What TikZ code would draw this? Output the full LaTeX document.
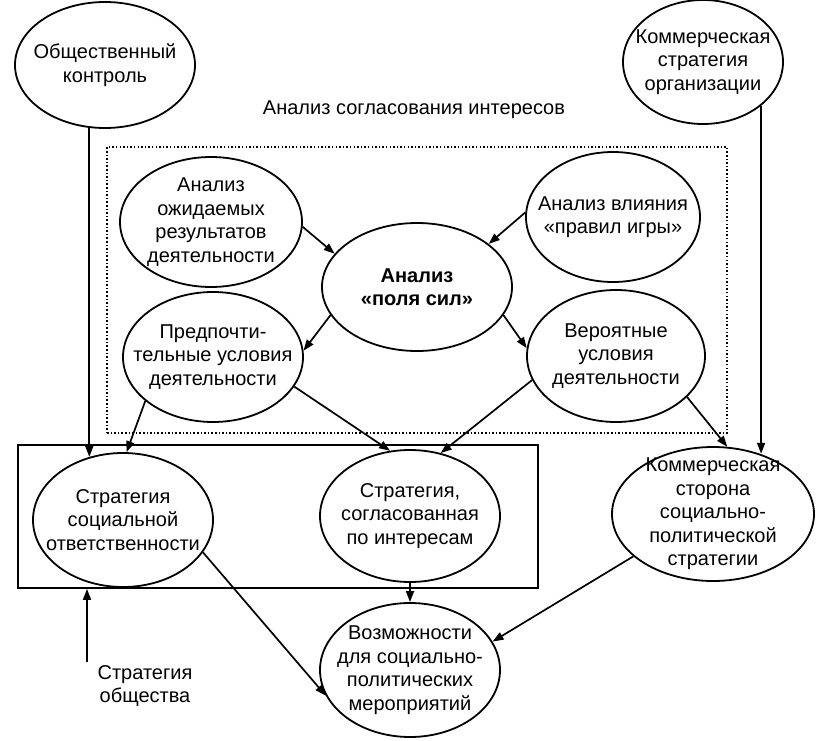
\documentclass[tikz,border=0pt]{standalone}
\usepackage{fontspec}
\setmainfont{Liberation Sans}
\usetikzlibrary{shapes.geometric,arrows.meta}
\begin{document}
\begin{tikzpicture}[x=1pt,y=-1pt,
  txtfont/.style={font=\fontsize{20}{23.5}\selectfont},
  ell/.style={draw, line width=1.8pt, ellipse, inner xsep=-25pt, inner ysep=-12pt, align=center, txtfont},
  arr/.style={line width=1.7pt, -{Triangle[length=11pt,width=8pt]}},
  frame/.style={draw, line width=1.8pt, inner sep=0pt},
  dotframe/.style={draw, line width=1.5pt, dash pattern=on 1.5pt off 2.1pt, inner sep=0pt},
  plain/.style={align=center, txtfont, inner sep=0pt}
]
\useasboundingbox (0,0) rectangle (819,741);

% frames
\node[dotframe, minimum width=620pt, minimum height=286pt] (dbox) at (417,290) {};
\node[frame, minimum width=520pt, minimum height=143pt] (box) at (278,516.5) {};

% ellipses
\node[ell, minimum width=180pt, minimum height=126pt] (A) at (105,65) {Общественный\\контроль};
\node[ell, minimum width=160pt, minimum height=124pt] (B) at (703,62) {Коммерческая\\стратегия\\организации};
\node[plain] (T) at (414,110) {Анализ согласования интересов};
\node[ell, minimum width=182pt, minimum height=130pt] (C) at (211,222) {Анализ\\ожидаемых\\результатов\\деятельности};
\node[ell, minimum width=174pt, minimum height=130pt] (D) at (613,217) {Анализ влияния\\«правил игры»};
\node[ell, minimum width=190pt, minimum height=128pt, font=\fontsize{20}{23.5}\selectfont\bfseries] (E) at (417,287) {Анализ\\«поля сил»};
\node[ell, minimum width=180pt, minimum height=130pt] (F) at (213,357) {Предпочти-\\тельные условия\\деятельности};
\node[ell, minimum width=178pt, minimum height=132pt] (G) at (616,356) {Вероятные\\условия\\деятельности};
\node[ell, minimum width=180pt, minimum height=134pt] (H) at (123,520) {Стратегия\\социальной\\ответственности};
\node[ell, minimum width=180pt, minimum height=132pt] (I) at (410,516) {Стратегия,\\согласованная\\по интересам};
\node[ell, minimum width=202pt, minimum height=134pt, inner ysep=-16pt] (J) at (713,514) {Коммерческая\\сторона\\социально-\\политической\\стратегии};
\node[ell, minimum width=180pt, minimum height=134pt] (K) at (410,670) {Возможности\\для социально-\\политических\\мероприятий};
\node[plain] (S) at (145,686) {Стратегия\\общества};
\coordinate (s1) at (87,662);

% connectors
\draw[arr] (A.256) -- (A.256 |- H.118);
\draw[arr] (B.-37) -- (B.-37 |- J.52);
\draw[arr] (C.-3) -- (E.158);
\draw[arr] (D.177) -- (E.31);
\draw[arr] (E.198) -- (F.4);
\draw[arr] (E.-18) -- (G.175);
\draw[arr] (F.213) -- (H.87);
\draw[arr] (F.-20) -- (I.107);
\draw[arr] (G.196) -- (I.64);
\draw[arr] (G.-30) -- (J.78);
\draw[arr] (H.-22) -- (K.197);
\draw[arr] (I.south) -- (K.north);
\draw[arr] (J.208) -- (K.19);
\draw[arr] (s1) -- (s1 |- box.south);
\end{tikzpicture}
\end{document}
